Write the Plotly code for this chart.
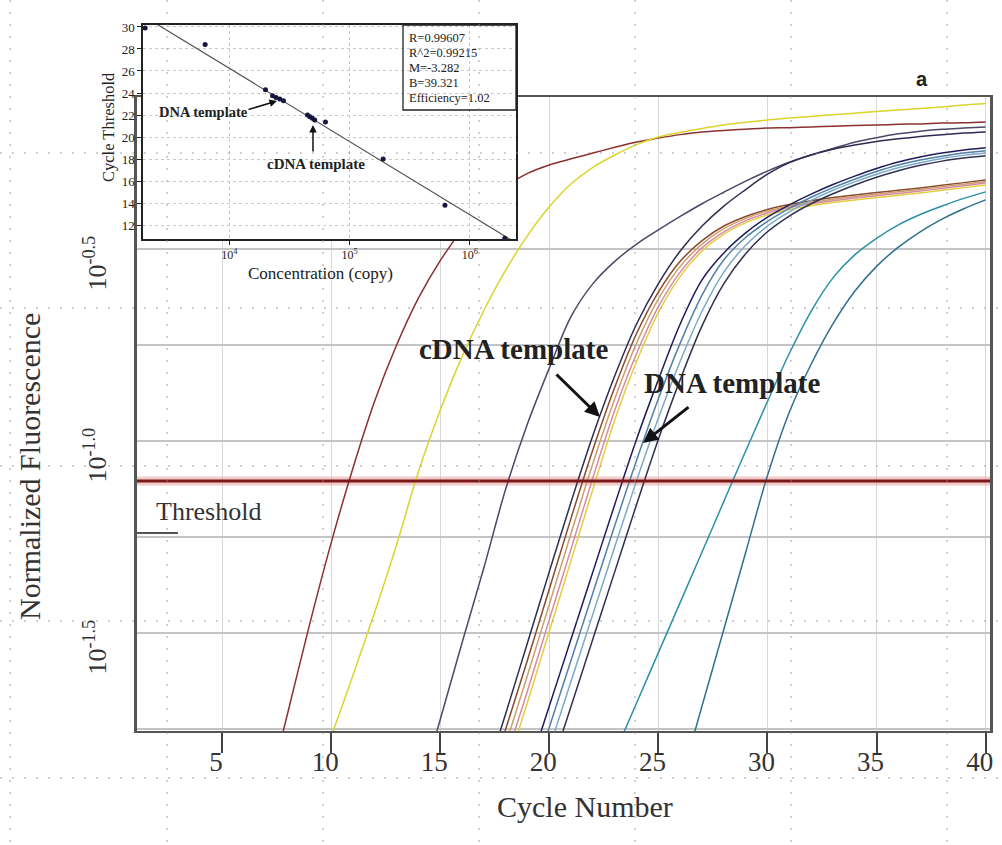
import numpy as np
import plotly.graph_objects as go

# ---- figure geometry (pixels) ----
W, H = 1002, 845
ML, MR, MT, MB = 60, 8, 10, 60
PW, PH = W - ML - MR, H - MT - MB


def fx(x):
    return (x - ML) / PW


def fy(y):
    return (H - MB - y) / PH


SERIF = "Liberation Serif, Times New Roman, serif"

# ---- main chart: amplification curves ----
cycle_range = [1.1, 40.2]
log_fluor_range = [-1.755, -0.104]
cycle_ticks = [5, 10, 15, 20, 25, 30, 35, 40]
log_fluor_grid = [-1.75, -1.5, -1.25, -1.0, -0.75, -0.5]
log_fluor_labels = ["", "10<sup>-1.5</sup>", "", "10<sup>-1.0</sup>", "", "10<sup>-0.5</sup>"]
threshold = 0.0787

# log10 normalized fluorescence per cycle; each run lists values from its first cycle to 40
std1_start = 7
std1_logf = [-1.94, -1.71, -1.48, -1.265, -1.07, -0.895, -0.75, -0.628, -0.53, -0.45,
             -0.386, -0.337, -0.303, -0.281, -0.265, -0.25, -0.235, -0.221, -0.211, -0.202,
             -0.195, -0.191, -0.188, -0.185, -0.184, -0.182, -0.18, -0.178, -0.177, -0.175,
             -0.174, -0.172, -0.171, -0.169]

std2_start = 9
std2_logf = [-1.93, -1.77, -1.61, -1.445, -1.27, -1.08, -0.92, -0.78, -0.66, -0.555,
             -0.465, -0.39, -0.33, -0.287, -0.255, -0.228, -0.208, -0.196, -0.186, -0.177,
             -0.17, -0.164, -0.159, -0.155, -0.15, -0.146, -0.142, -0.138, -0.134, -0.13,
             -0.125, -0.121]

std3_start = 14
std3_logf = [-1.925, -1.725, -1.525, -1.33, -1.125, -0.955, -0.81, -0.675, -0.59, -0.532,
             -0.487, -0.45, -0.415, -0.382, -0.352, -0.323, -0.297, -0.274, -0.255, -0.238,
             -0.222, -0.21, -0.2, -0.193, -0.188, -0.185, -0.182]

cdna1_start = 17
cdna1_logf = [-1.89, -1.71, -1.525, -1.34, -1.158, -0.985, -0.83, -0.695, -0.59, -0.505,
              -0.44, -0.388, -0.345, -0.305, -0.275, -0.255, -0.24, -0.229, -0.22, -0.213,
              -0.207, -0.202, -0.198, -0.195]

cdna2_start = 17
cdna2_logf = [-1.93, -1.75, -1.57, -1.385, -1.2, -1.022, -0.86, -0.72, -0.612, -0.532,
              -0.478, -0.44, -0.415, -0.397, -0.384, -0.374, -0.366, -0.359, -0.353, -0.347,
              -0.341, -0.334, -0.327, -0.32]

cdna3_start = 18
cdna3_logf = [-1.79, -1.61, -1.425, -1.24, -1.058, -0.89, -0.745, -0.63, -0.545, -0.487,
              -0.447, -0.42, -0.401, -0.388, -0.378, -0.37, -0.363, -0.357, -0.351, -0.345,
              -0.338, -0.331, -0.324]

cdna4_start = 18
cdna4_logf = [-1.83, -1.65, -1.465, -1.28, -1.095, -0.92, -0.772, -0.65, -0.56, -0.497,
              -0.455, -0.426, -0.406, -0.392, -0.382, -0.374, -0.367, -0.361, -0.355, -0.349,
              -0.342, -0.335, -0.328]

cdna5_start = 18
cdna5_logf = [-1.86, -1.68, -1.495, -1.31, -1.125, -0.945, -0.793, -0.665, -0.571, -0.505,
              -0.461, -0.431, -0.411, -0.397, -0.387, -0.379, -0.372, -0.366, -0.36, -0.354,
              -0.347, -0.34, -0.333]

dna1_start = 19
dna1_logf = [-1.865, -1.69, -1.515, -1.34, -1.165, -0.995, -0.84, -0.695, -0.58, -0.51,
             -0.458, -0.417, -0.385, -0.357, -0.332, -0.31, -0.29, -0.273, -0.26, -0.25,
             -0.242, -0.236]

dna2_start = 19
dna2_logf = [-1.92, -1.745, -1.57, -1.395, -1.22, -1.05, -0.89, -0.745, -0.62, -0.528,
             -0.47, -0.428, -0.394, -0.365, -0.34, -0.318, -0.298, -0.281, -0.268, -0.258,
             -0.25, -0.244]

dna3_start = 20
dna3_logf = [-1.8, -1.625, -1.45, -1.275, -1.103, -0.94, -0.792, -0.662, -0.56, -0.49,
             -0.44, -0.403, -0.373, -0.347, -0.325, -0.305, -0.288, -0.275, -0.264, -0.256,
             -0.25]

dna4_start = 20
dna4_logf = [-1.865, -1.69, -1.515, -1.34, -1.165, -0.995, -0.84, -0.7, -0.59, -0.512,
             -0.455, -0.414, -0.382, -0.356, -0.333, -0.313, -0.296, -0.282, -0.271, -0.263,
             -0.257]

std4_start = 23
std4_logf = [-1.813, -1.682, -1.551, -1.42, -1.289, -1.157, -1.026, -0.897, -0.772, -0.662,
             -0.575, -0.515, -0.472, -0.437, -0.41, -0.388, -0.368, -0.351]

std5_start = 26
std5_logf = [-1.89, -1.69, -1.49, -1.29, -1.09, -0.925, -0.8, -0.695, -0.61, -0.545,
             -0.495, -0.455, -0.422, -0.395, -0.372]

runs = [
    (std1_start, std1_logf, "#8b2f2f"),
    (std2_start, std2_logf, "#dcd42c"),
    (std3_start, std3_logf, "#4b4868"),
    (cdna1_start, cdna1_logf, "#2c2c50"),
    (cdna2_start, cdna2_logf, "#8b4a2a"),
    (cdna3_start, cdna3_logf, "#c8a070"),
    (cdna4_start, cdna4_logf, "#d88aa0"),
    (cdna5_start, cdna5_logf, "#e0d040"),
    (dna1_start, dna1_logf, "#1c1c5c"),
    (dna2_start, dna2_logf, "#5080a8"),
    (dna3_start, dna3_logf, "#7aaac8"),
    (dna4_start, dna4_logf, "#303050"),
    (std4_start, std4_logf, "#2a90a8"),
    (std5_start, std5_logf, "#2f6f90"),
]

# ---- inset: standard curve ----
conc_range = [3.283, 6.383]      # log10 copies
ct_range = [10.73, 30.18]
ct_ticks = [12, 14, 16, 18, 20, 22, 24, 26, 28, 30]
conc_ticks = [1e4, 1e5, 1e6]
conc_labels = ["10<sup>4</sup>", "10<sup>5</sup>", "10<sup>6</sup>"]
std_conc = [2.0e3, 6.3e3, 2.0e4, 2.29e4, 2.45e4, 2.63e4, 2.82e4, 4.47e4, 4.68e4,
            4.9e4, 5.13e4, 6.3e4, 1.9e5, 6.2e5, 1.95e6]
std_ct = [29.9, 28.4, 24.3, 23.75, 23.6, 23.45, 23.3, 22.0, 21.85,
          21.7, 21.55, 21.36, 18.0, 13.8, 10.8]
stats_lines = ["R=0.99607", "R^2=0.99215", "M=-3.282", "B=39.321", "Efficiency=1.02"]

fig = go.Figure()

# threshold band, curves, threshold line
fig.add_trace(go.Scatter(x=cycle_range, y=[threshold, threshold], mode="lines",
                         line=dict(color="rgba(235,160,160,0.55)", width=9),
                         hoverinfo="skip"))
for start, lf, col in runs:
    cyc = np.arange(start, start + len(lf))
    fig.add_trace(go.Scatter(x=cyc, y=10 ** np.array(lf), mode="lines",
                             line=dict(color=col, width=1.5, shape="spline", smoothing=1.0),
                             hoverinfo="skip"))
fig.add_trace(go.Scatter(x=cycle_range, y=[threshold, threshold], mode="lines",
                         line=dict(color="#7b1818", width=3), hoverinfo="skip"))

# inset fit line and points
slope, intercept = np.polyfit(np.log10(std_conc), std_ct, 1)
fit_x = np.array([10 ** conc_range[0], 10 ** conc_range[1]])
fig.add_trace(go.Scatter(x=fit_x, y=slope * np.log10(fit_x) + intercept, mode="lines",
                         line=dict(color="#555555", width=1.2), xaxis="x2", yaxis="y2",
                         hoverinfo="skip"))
fig.add_trace(go.Scatter(x=std_conc, y=std_ct, mode="markers",
                         marker=dict(color="#15153f", size=5), xaxis="x2", yaxis="y2",
                         cliponaxis=False, hoverinfo="skip"))

shapes = []
# white backing for the inset (drawn in the inset subplot's own layer)
shapes.append(dict(type="rect", xref="x2", yref="y2",
                   x0=10 ** conc_range[0], x1=10 ** conc_range[1],
                   y0=ct_range[0], y1=ct_range[1],
                   fillcolor="white", line=dict(width=0), layer="below"))
# statistics box
shapes.append(dict(type="rect", xref="paper", yref="paper",
                   x0=fx(403), x1=fx(516), y0=fy(110), y1=fy(25),
                   line=dict(color="#222", width=1.3), layer="above"))
# short marker line under the threshold label
shapes.append(dict(type="line", xref="paper", yref="paper",
                   x0=fx(137), x1=fx(178), y0=fy(533), y1=fy(533),
                   line=dict(color="#555", width=2), layer="above"))
# dotted page grid
for gx in [10, 167, 323, 479, 635, 791, 947]:
    shapes.append(dict(type="line", xref="paper", yref="paper",
                       x0=fx(gx), x1=fx(gx), y0=fy(0), y1=fy(H),
                       line=dict(color="rgba(140,140,140,0.55)", width=1.5, dash="2px,10px"),
                       layer="above"))
for gy in [153, 308, 466, 621, 778]:
    shapes.append(dict(type="line", xref="paper", yref="paper",
                       x0=fx(0), x1=fx(W), y0=fy(gy), y1=fy(gy),
                       line=dict(color="rgba(140,140,140,0.55)", width=1.5, dash="2px,10px"),
                       layer="above"))

ann = []


def text(x, y, s, size, bold=False, family=SERIF, angle=0, xanchor="center", color="#222"):
    ann.append(dict(x=fx(x), y=fy(y), xref="paper", yref="paper",
                    text=f"<b>{s}</b>" if bold else s,
                    showarrow=False, textangle=angle, xanchor=xanchor, yanchor="middle",
                    font=dict(family=family, size=size, color=color)))


def arrow(x_head, y_head, x_tail, y_tail, width):
    ann.append(dict(x=fx(x_head), y=fy(y_head), xref="paper", yref="paper", text="",
                    showarrow=True, ax=x_tail - x_head, ay=y_tail - y_head,
                    arrowhead=2, arrowsize=1, arrowwidth=width, arrowcolor="#111"))


text(585, 806, "Cycle Number", 30, color="#333")
text(30, 467, "Normalized Fluorescence", 30, angle=-90, color="#333")
text(922, 79, "a", 20, bold=True, family="Liberation Sans, Arial, sans-serif")
text(513, 349, "cDNA template", 29, bold=True)
text(732, 383, "DNA template", 29, bold=True)
text(208, 511, "Threshold", 26, color="#333")
arrow(600, 417, 555, 373, 3)
arrow(643, 443, 690, 406, 3)
# inset labels
text(203, 112, "DNA template", 14.5, bold=True)
text(316, 164, "cDNA template", 15, bold=True)
arrow(277, 101, 247, 110, 1.5)
arrow(313, 125, 313, 153, 1.5)
text(108, 127, "Cycle Threshold", 16.5, angle=-90)
text(320, 273, "Concentration (copy)", 17)
for i, s in enumerate(stats_lines):
    text(407, 38 + 15 * i, s, 12.5, xanchor="left")

fig.update_layout(
    width=W, height=H,
    margin=dict(l=ML, r=MR, t=MT, b=MB, autoexpand=False),
    paper_bgcolor="white", plot_bgcolor="rgba(0,0,0,0)",
    showlegend=False,
    font=dict(family=SERIF, color="#222"),
    shapes=shapes, annotations=ann,
    xaxis=dict(domain=[fx(137), fx(990)], range=cycle_range, anchor="y",
               tickvals=cycle_ticks, ticks="outside", ticklen=20, tickwidth=1.5, tickcolor="#444",
               showline=True, linecolor="#555", linewidth=2, mirror=True,
               showgrid=True, gridcolor="#d8d8d8", gridwidth=1, zeroline=False,
               tickfont=dict(size=27, color="#333"), ticklabelshift=-6,
               ticklabelstandoff=-14),
    yaxis=dict(domain=[fy(731), fy(97)], type="log", range=log_fluor_range, anchor="x",
               tickvals=[10 ** v for v in log_fluor_grid], ticktext=log_fluor_labels,
               ticks="", showline=True, linecolor="#555", linewidth=2.5, mirror=True,
               showgrid=True, gridcolor="#c4c4c4", gridwidth=2, zeroline=False,
               tickangle=-90, tickfont=dict(size=26, color="#333"),
               ticklabelstandoff=18, ticklabelshift=18),
    xaxis2=dict(domain=[fx(143), fx(516)], type="log", range=conc_range, anchor="y2",
                tickvals=conc_ticks, ticktext=conc_labels, ticks="outside", ticklen=4,
                tickcolor="#222", showline=True, linecolor="#222", linewidth=1.5, mirror=True,
                showgrid=True, gridcolor="#c8c8c8", griddash="dot", zeroline=False,
                tickfont=dict(size=12)),
    yaxis2=dict(domain=[fy(239), fy(25)], range=ct_range, anchor="x2",
                tickvals=ct_ticks, ticks="outside", ticklen=4, tickcolor="#222",
                showline=True, linecolor="#222", linewidth=1.5, mirror=True,
                showgrid=True, gridcolor="#c8c8c8", griddash="dot", zeroline=False,
                tickfont=dict(size=13)),
)

fig.write_html("out.html")
